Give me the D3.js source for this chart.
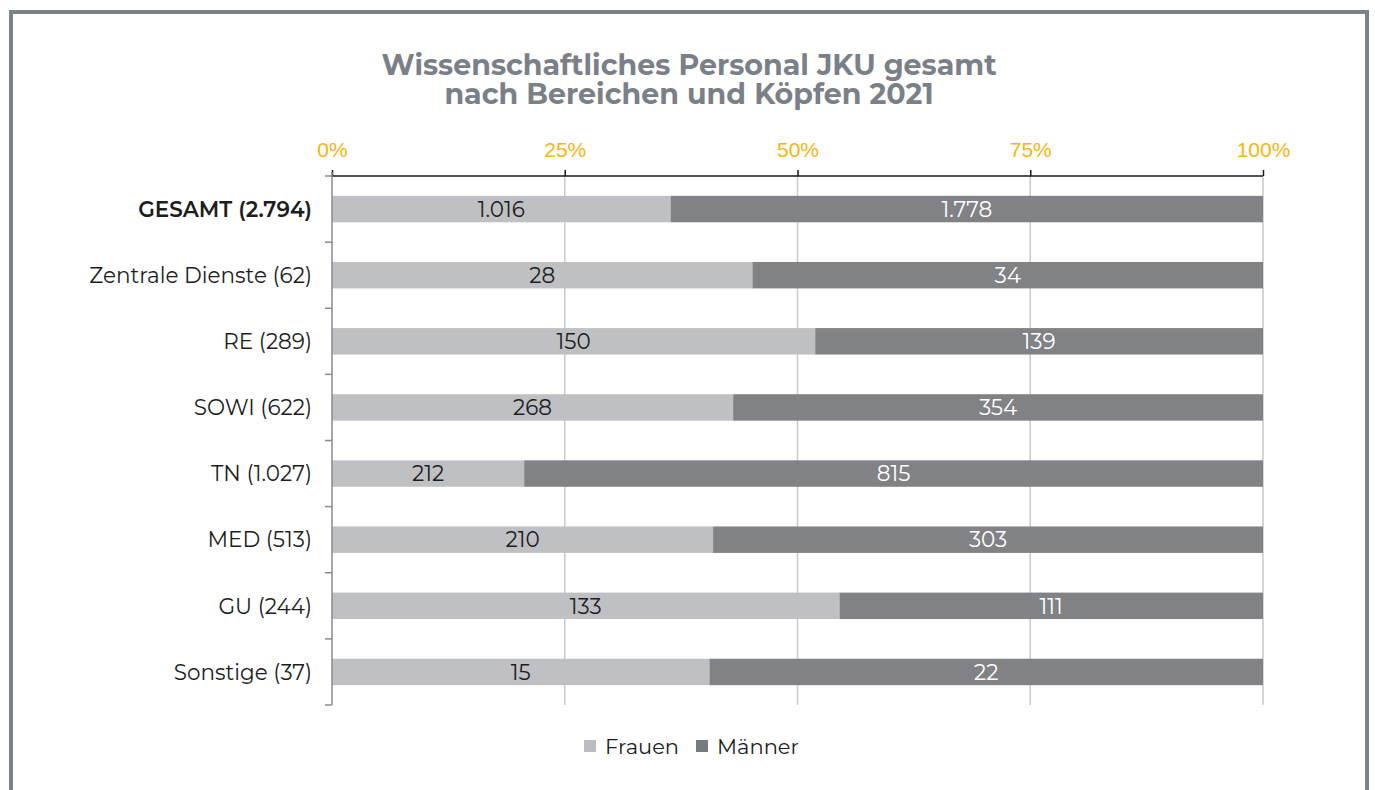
<!DOCTYPE html>
<html>
<head>
<meta charset="utf-8">
<script src="https://cdn.jsdelivr.net/npm/d3@7"></script>
<style>
  html, body { margin: 0; padding: 0; background: #fff; }
  svg { display: block; font-family: "Montserrat", "Inter", "Open Sans", sans-serif; }
</style>
</head>
<body>
<svg id="chart" width="1375" height="790"></svg>
<script>
// Wissenschaftliches Personal nach Bereichen (Köpfe), 2021
const categories = ["GESAMT", "Zentrale Dienste", "RE", "SOWI", "TN", "MED", "GU", "Sonstige"];
const totalLabels = ["2.794", "62", "289", "622", "1.027", "513", "244", "37"];
const frauen = [1016, 28, 150, 268, 212, 210, 133, 15];
const maenner = [1778, 34, 139, 354, 815, 303, 111, 22];
const tickValues = [0, 0.25, 0.5, 0.75, 1];
const tickLabels = ["0%", "25%", "50%", "75%", "100%"];
const seriesNames = ["Frauen", "Männer"];

const fmt = d3.formatLocale({ decimal: ",", thousands: ".", grouping: [3], currency: ["", "€"] }).format(",d");

const svg = d3.select("#chart");

// frame
svg.append("rect")
  .attr("x", 11).attr("y", 12).attr("width", 1356).attr("height", 800)
  .attr("fill", "none").attr("stroke", "#7b838a").attr("stroke-width", 4);

// title
const title = svg.append("text")
  .attr("text-anchor", "middle").attr("fill", "#7a8087")
  .attr("font-size", 28.5).attr("font-weight", 700);
title.append("tspan").attr("x", 689).attr("y", 75).text("Wissenschaftliches Personal JKU gesamt");
title.append("tspan").attr("x", 689).attr("y", 104).text("nach Bereichen und Köpfen 2021");

const plotLeft = 332, plotRight = 1263, plotTop = 176, plotBottom = 705;

const x = d3.scaleLinear().domain([0, 1]).range([plotLeft, plotRight]);
const y = d3.scaleBand().domain(categories).range([plotTop, plotBottom]).paddingInner(0.6).paddingOuter(0.3);

const data = categories.map((c, i) => {
  const t = frauen[i] + maenner[i];
  return { cat: c, f: frauen[i], m: maenner[i], pf: frauen[i] / t };
});

// vertical gridlines
svg.append("g").selectAll("line")
  .data(tickValues.slice(1))
  .join("line")
  .attr("x1", d => x(d)).attr("x2", d => x(d))
  .attr("y1", plotTop).attr("y2", plotBottom)
  .attr("stroke", "#c9c9cc").attr("stroke-width", 1.5);

// bars
const colF = "#bfc0c3", colM = "#818286";
const rows = svg.append("g").selectAll("g").data(data).join("g");
rows.append("rect")
  .attr("x", x(0)).attr("y", d => y(d.cat))
  .attr("width", d => x(d.pf) - x(0)).attr("height", y.bandwidth())
  .attr("fill", colF);
rows.append("rect")
  .attr("x", d => x(d.pf)).attr("y", d => y(d.cat))
  .attr("width", d => x(1) - x(d.pf)).attr("height", y.bandwidth())
  .attr("fill", colM);

// value labels
rows.append("text")
  .attr("x", d => (x(0) + x(d.pf)) / 2).attr("y", d => y(d.cat) + y.bandwidth() / 2)
  .attr("dy", "0.36em").attr("text-anchor", "middle")
  .attr("font-size", 21.5).attr("fill", "#1d1d1d")
  .text(d => fmt(d.f));
rows.append("text")
  .attr("x", d => (x(d.pf) + x(1)) / 2).attr("y", d => y(d.cat) + y.bandwidth() / 2)
  .attr("dy", "0.36em").attr("text-anchor", "middle")
  .attr("font-size", 21.5).attr("fill", "#ffffff")
  .text(d => fmt(d.m));

// top axis
const xAxis = d3.axisTop(x).tickValues(tickValues).tickFormat((d, i) => tickLabels[i]).tickSize(6).tickPadding(13);
const gx = svg.append("g").attr("transform", `translate(0,${plotTop})`).call(xAxis);
gx.select(".domain").attr("stroke", "#1a1a1a").attr("stroke-width", 1.5).attr("d", `M${plotLeft},0H${plotRight}`);
gx.selectAll(".tick line").attr("stroke", "#1a1a1a").attr("stroke-width", 1.5);
gx.selectAll(".tick text").attr("fill", "#f7b50f").attr("font-size", 21).attr("font-family", null);

// left axis with ticks at category boundaries
const bounds = d3.range(categories.length + 1).map(i => plotTop + i * y.step());
const gy = svg.append("g");
gy.append("line").attr("x1", plotLeft).attr("x2", plotLeft).attr("y1", plotTop - 4).attr("y2", plotBottom)
  .attr("stroke", "#8a8a8e").attr("stroke-width", 1.5);
gy.selectAll("line.b").data(bounds).join("line").attr("class", "b")
  .attr("x1", plotLeft - 7).attr("x2", plotLeft).attr("y1", d => d).attr("y2", d => d)
  .attr("stroke", "#8a8a8e").attr("stroke-width", 1.5);

// category labels
svg.append("g").selectAll("text").data(data).join("text")
  .attr("x", 312).attr("y", d => y(d.cat) + y.bandwidth() / 2).attr("dy", "0.36em")
  .attr("text-anchor", "end").attr("font-size", 21.5).attr("fill", "#1d1d1d")
  .attr("font-weight", (d, i) => i === 0 ? 600 : 400)
  .text((d, i) => `${d.cat} (${totalLabels[i]})`);

// legend
const legCols = ["#bcbdc0", "#777b80"];
const legX = [584, 696];
const leg = svg.append("g").selectAll("g").data(seriesNames).join("g")
  .attr("transform", (d, i) => `translate(${legX[i]},746)`);
leg.append("rect").attr("x", 0).attr("y", -6).attr("width", 12).attr("height", 12).attr("fill", (d, i) => legCols[i]);
leg.append("text").attr("x", 21).attr("y", 0).attr("dy", "0.36em").attr("font-size", 21).attr("fill", "#1d1d1d").text(d => d);
</script>
</body>
</html>
